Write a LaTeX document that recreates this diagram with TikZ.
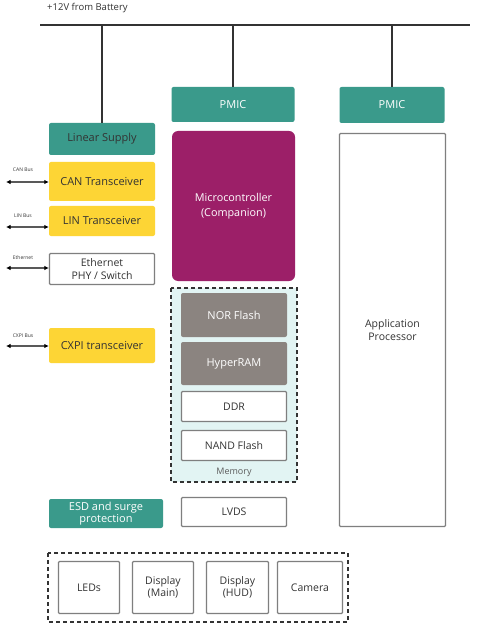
\documentclass[tikz,border=0pt]{standalone}
\usepackage{fontspec}
\setmainfont{Open Sans}
\usetikzlibrary{arrows.meta}
\definecolor{tealc}{HTML}{3A9A8B}
\definecolor{yellowc}{HTML}{FDD535}
\definecolor{purplec}{HTML}{9C1F68}
\definecolor{grayc}{HTML}{8B8480}
\definecolor{memc}{HTML}{E2F4F3}
\definecolor{edgec}{HTML}{7F7F7F}
\definecolor{linec}{HTML}{333333}
\begin{document}
\begin{tikzpicture}[x=1pt,y=-1pt,
  base/.style={inner sep=0pt,align=center,font=\fontsize{11}{13}\selectfont},
  tealbox/.style={base,fill=tealc,rounded corners=2pt,text=white},
  yelbox/.style={base,fill=yellowc,rounded corners=2pt,text=linec},
  whitebox/.style={base,fill=white,draw=edgec,line width=1.2pt,rounded corners=1pt,text=linec,font=\fontsize{10.5}{12.5}\selectfont},
  graybox/.style={base,fill=grayc,rounded corners=2pt,text=white},
  dashbox/.style={draw=linec,line width=1.5pt,dash pattern=on 4pt off 3pt},
  wire/.style={draw=linec,line width=1.6pt},
  busarrow/.style={draw=gray!70!black,line width=1.2pt,{Latex[length=4.5pt,width=4.5pt,color=black]}-{Latex[length=4.5pt,width=4.5pt,color=black]}},
  buslabel/.style={inner sep=0pt,font=\fontsize{5}{6}\selectfont,text=linec}]
\useasboundingbox (0,0) rectangle (480,636);
\fill[white] (0,0) rectangle (480,636);

\node[inner sep=0pt,anchor=west,font=\fontsize{9.5}{10}\selectfont,text=linec] (title) at (47,8) {+12V from Battery};
\coordinate (busL) at (40,25);
\coordinate (busR) at (470,25);
\draw[draw=linec,line width=2pt] (busL) -- (busR);

% power
\node[tealbox,minimum width=123pt,minimum height=35pt] (pmic1) at (233,104.5) {PMIC};
\node[tealbox,minimum width=105pt,minimum height=36pt] (pmic2) at (392,105) {PMIC};
\node[tealbox,minimum width=106pt,minimum height=32pt,text=linec] (lin) at (102,139) {Linear Supply};
\draw[wire] (lin.north |- busL) -- (lin.north);
\draw[wire] (pmic1.north |- busL) -- (pmic1.north);
\draw[wire] (pmic2.north |- busL) -- (pmic2.north);

% transceivers
\node[yelbox,minimum width=106pt,minimum height=39pt] (can) at (102,181.5) {CAN Transceiver};
\node[yelbox,minimum width=106pt,minimum height=30pt] (linx) at (102,221) {LIN Transceiver};
\node[whitebox,minimum width=105pt,minimum height=31pt] (eth) at (102,269) {Ethernet\\PHY / Switch};
\node[yelbox,minimum width=106pt,minimum height=35pt] (cxpi) at (102,345.5) {CXPI transceiver};

\coordinate (canE) at (6,182);
\coordinate (linE) at (6,227);
\coordinate (ethE) at (6,268);
\coordinate (cxpiE) at (6,346);
\draw[busarrow] (canE) -- (canE -| can.west);
\draw[busarrow] (linE) -- (linE -| linx.west);
\draw[busarrow] (ethE) -- (ethE -| eth.west);
\draw[busarrow] (cxpiE) -- (cxpiE -| cxpi.west);
\node[buslabel] (canL) at (23,170) {CAN Bus};
\node[buslabel] (linL) at (23,216) {LIN Bus};
\node[buslabel] (ethL) at (23,258) {Ethernet};
\node[buslabel] (cxpiL) at (23,336) {CXPI Bus};

\node[tealbox,minimum width=114pt,minimum height=29pt,font=\fontsize{11}{12.5}\selectfont] (esd) at (106,513.5) {ESD and surge\\protection};

% MCU and memory
\node[base,fill=purplec,rounded corners=6pt,text=white,minimum width=123pt,minimum height=150pt,font=\fontsize{10.8}{14.5}\selectfont] (mcu) at (233.5,206) {Microcontroller\\(Companion)};
\draw[dashbox,fill=memc] (171,288) rectangle (297,482);
\node[graybox,minimum width=106pt,minimum height=44pt] (nor) at (234,315) {NOR Flash};
\node[graybox,minimum width=106pt,minimum height=43pt] (hram) at (234,363.5) {HyperRAM};
\node[whitebox,minimum width=105pt,minimum height=30pt] (ddr) at (234,406.5) {DDR};
\node[whitebox,minimum width=105pt,minimum height=30pt] (nand) at (234,445.5) {NAND Flash};
\node[inner sep=0pt,font=\fontsize{9}{10}\selectfont,text=linec!80] (memL) at (234,472) {Memory};
\node[whitebox,minimum width=105pt,minimum height=29pt] (lvds) at (234,512) {LVDS};

% application processor
\node[whitebox,minimum width=106pt,minimum height=393pt] (ap) at (392.5,330) {Application\\Processor};

% peripherals
\draw[dashbox] (48,553) rectangle (348,622);
\node[whitebox,minimum width=61pt,minimum height=52pt] (leds) at (89,587.5) {LEDs};
\node[whitebox,minimum width=61pt,minimum height=52pt] (dmain) at (163,587.5) {Display\\(Main)};
\node[whitebox,minimum width=62pt,minimum height=52pt] (dhud) at (237.5,587.5) {Display\\(HUD)};
\node[whitebox,minimum width=65pt,minimum height=52pt] (cam) at (310,587.5) {Camera};
\end{tikzpicture}
\end{document}
